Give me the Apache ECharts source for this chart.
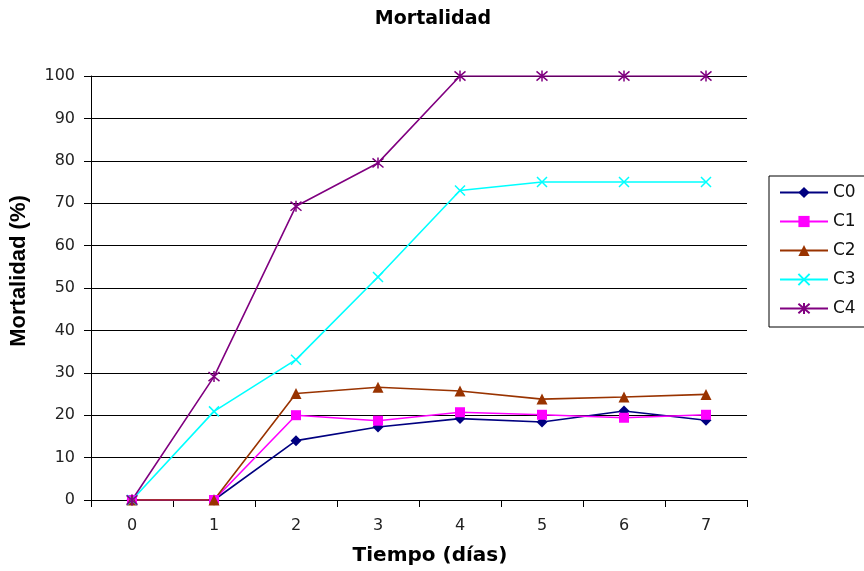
<!DOCTYPE html>
<html>
<head>
<meta charset="utf-8">
<script src="https://cdn.jsdelivr.net/npm/echarts@6/dist/echarts.min.js"></script>
<style>html,body{margin:0;padding:0;background:#fff}#c{width:864px;height:571px}</style>
</head>
<body>
<div id="c"></div>
<script>
const categories = ['0', '1', '2', '3', '4', '5', '6', '7'];
const yTicks = [0, 10, 20, 30, 40, 50, 60, 70, 80, 90, 100];
const seriesNames = ['C0', 'C1', 'C2', 'C3', 'C4'];
const C0 = [0, 0, 14, 17.2, 19.2, 18.4, 21, 18.8];
const C1 = [0, 0, 20, 18.7, 20.7, 20.1, 19.4, 20.1];
const C2 = [0, 0, 25.1, 26.6, 25.7, 23.8, 24.3, 24.9];
const C3 = [0, 20.9, 33.1, 52.6, 73, 75, 75, 75];
const C4 = [0, 29.1, 69.3, 79.5, 100, 100, 100, 100];

const colors = ['#000080', '#FF00FF', '#993300', '#00FFFF', '#800080'];
const symbols = ['diamond', 'rect', 'triangle',
  'path://M0,0L10,10M10,0L0,10',
  'path://M0,0L10,10M10,0L0,10M5,-1L5,11'];
const symbolSizes = [11, 10, 11, 10, 11];
const dataSets = [C0, C1, C2, C3, C4];

const chart = echarts.init(document.getElementById('c'), null, {renderer: 'canvas'});
const series = seriesNames.map((n, i) => ({
  name: n,
  type: 'line',
  data: dataSets[i],
  symbol: symbols[i],
  symbolSize: symbolSizes[i],
  showAllSymbol: true,
  lineStyle: {color: colors[i], width: 1.6},
  itemStyle: {color: colors[i], borderColor: colors[i], borderWidth: i >= 3 ? 1.5 : 0},
  emphasis: {disabled: true},
  animation: false
}));

chart.setOption({
  animation: false,
  backgroundColor: '#fff',
  title: {
    text: 'Mortalidad',
    left: 428, top: 5, textAlign: 'center',
    textStyle: {fontFamily: 'DejaVu Sans', fontWeight: 'bold', fontSize: 19, color: '#000'}
  },
  legend: {
    orient: 'vertical',
    left: 769, top: 176,
    data: seriesNames,
    itemWidth: 48, itemHeight: 14, itemGap: 12,
    padding: [8, 60, 10, 10],
    borderColor: '#000', borderWidth: 1,
    textStyle: {fontFamily: 'DejaVu Sans', fontSize: 17, color: '#111'}
  },
  grid: {left: 91, right: 117, top: 76, bottom: 66, containLabel: false},
  xAxis: {
    type: 'category',
    data: categories,
    boundaryGap: true,
    name: 'Tiempo (días)',
    nameLocation: 'middle',
    nameGap: 46,
    nameTextStyle: {fontFamily: 'DejaVu Sans', fontWeight: 'bold', fontSize: 20, color: '#000', padding: [0, 0, 0, 22]},
    axisLine: {lineStyle: {color: '#000', width: 1}},
    axisTick: {show: true, inside: false, length: 7, alignWithLabel: false, lineStyle: {color: '#000'}},
    axisLabel: {fontFamily: 'DejaVu Sans', fontSize: 16, color: '#222', margin: 18},
    splitLine: {show: false}
  },
  yAxis: {
    type: 'value',
    min: yTicks[0], max: yTicks[yTicks.length - 1], interval: 10,
    name: 'Mortalidad (%)',
    nameLocation: 'middle',
    nameGap: 61,
    nameTextStyle: {fontFamily: 'Liberation Sans', fontWeight: 'bold', fontSize: 22, color: '#000', padding: [0, 0, 0, 34]},
    axisLine: {show: true, lineStyle: {color: '#000', width: 1}},
    axisTick: {show: true, inside: false, length: 7, lineStyle: {color: '#000'}},
    axisLabel: {fontFamily: 'DejaVu Sans', fontSize: 16, color: '#222', margin: 16},
    splitLine: {show: true, lineStyle: {color: '#000', width: 1}}
  },
  series: series
});
</script>
</body>
</html>
